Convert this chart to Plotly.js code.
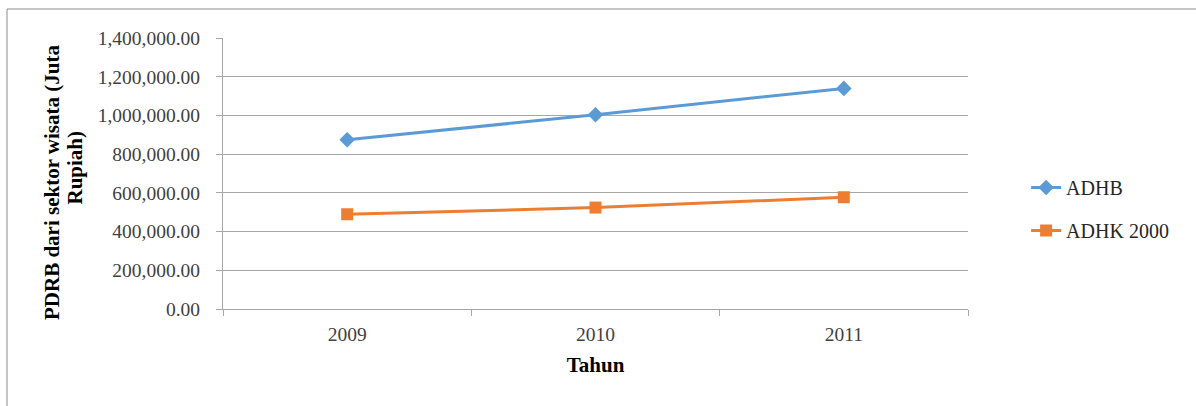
<!DOCTYPE html>
<html>
<head>
<meta charset="utf-8">
<script src="https://cdn.plot.ly/plotly-3.0.1.min.js"></script>
<style>html,body{margin:0;padding:0;background:#fff;}#chart{width:1196px;height:406px;}</style>
</head>
<body>
<div id="chart"></div>
<script>
var years = ["2009", "2010", "2011"];
var adhb = [874000, 1003500, 1139700];
var adhk2000 = [489400, 524000, 577400];
var seriesNames = ["ADHB", "ADHK 2000"];
var yTitleLine1 = "PDRB dari sektor wisata (Juta";
var yTitleLine2 = "Rupiah)";
var xTitle = "Tahun";

var serif = "Liberation Serif";

var traces = [
  {
    x: years, y: adhb, name: seriesNames[0], type: "scatter", mode: "lines+markers",
    legendgroup: "a",
    line: {color: "#5B9BD5", width: 3},
    marker: {symbol: "diamond", size: 12, color: "#5B9BD5"}
  },
  {
    x: years, y: adhk2000, name: seriesNames[1], type: "scatter", mode: "lines+markers",
    legendgroup: "b",
    line: {color: "#ED7D31", width: 3},
    marker: {symbol: "square", size: 12, color: "#ED7D31"}
  }
];

var layout = {
  width: 1196, height: 406,
  margin: {l: 223, r: 228, t: 38, b: 97, pad: 0},
  paper_bgcolor: "#fff", plot_bgcolor: "#fff",
  font: {family: serif, size: 19.5, color: "#404040"},
  showlegend: true,
  legend: {
    x: 1.078, xanchor: "left", y: 0.369, yanchor: "middle",
    traceorder: "grouped", tracegroupgap: 14,
    font: {family: serif, size: 20, color: "#262626"},
    bgcolor: "rgba(0,0,0,0)"
  },
  xaxis: {
    type: "category",
    range: [-0.5, 2.5],
    showgrid: false, zeroline: false,
    showline: true, linecolor: "#a6a6a6", linewidth: 1,
    ticks: "outside", tickson: "boundaries", ticklen: 6, tickcolor: "#a6a6a6",
    ticklabelstandoff: 8,
    tickfont: {family: serif, size: 19.5, color: "#404040"},
    title: {text: xTitle, standoff: 12, font: {family: serif, size: 21, color: "#000", weight: "bold"}}
  },
  yaxis: {
    range: [0, 1400000], dtick: 200000, tick0: 0,
    tickformat: ",.2f",
    showgrid: true, gridcolor: "#a6a6a6", gridwidth: 1,
    zeroline: false,
    showline: true, linecolor: "#a6a6a6", linewidth: 1,
    ticks: "outside", ticklen: 6, tickcolor: "#a6a6a6",
    ticklabelstandoff: 12,
    tickfont: {family: serif, size: 19.5, color: "#404040"}
  },
  annotations: [
    {text: yTitleLine1, xref: "paper", yref: "paper", x: -0.2295, y: 0.465,
     xanchor: "center", yanchor: "middle", textangle: -90, showarrow: false,
     font: {family: serif, size: 21, color: "#000", weight: "bold"}},
    {text: yTitleLine2, xref: "paper", yref: "paper", x: -0.198, y: 0.524,
     xanchor: "center", yanchor: "middle", textangle: -90, showarrow: false,
     font: {family: serif, size: 21, color: "#000", weight: "bold"}}
  ],
  shapes: [
    {type: "rect", xref: "paper", yref: "paper", x0: -0.2899, x1: 1.6, y0: -0.6, y1: 1.107,
     line: {color: "#8c8c8c", width: 1}, fillcolor: "rgba(0,0,0,0)", layer: "below"}
  ]
};

Plotly.newPlot("chart", traces, layout, {displayModeBar: false, staticPlot: true});
</script>
</body>
</html>
